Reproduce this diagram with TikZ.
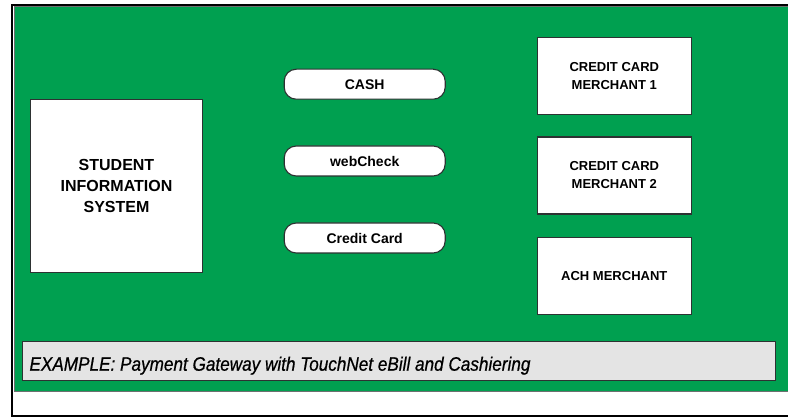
\documentclass[tikz,border=0pt]{standalone}
\usepackage{fontspec}
\setmainfont{Liberation Sans}
\definecolor{panelgreen}{RGB}{0,160,80}
\definecolor{edgegray}{RGB}{45,50,50}
\definecolor{captiongray}{RGB}{228,228,228}
\begin{document}
\begin{tikzpicture}[x=1pt,y=-1pt,
  box/.style={draw=edgegray, line width=1.1pt, fill=white, align=center,
    inner sep=0pt, font=\bfseries\fontsize{13}{18}\selectfont},
  merchant/.style={box, minimum width=154pt, minimum height=77pt},
  pill/.style={box, rounded corners=12pt, minimum width=161pt, minimum height=30pt,
    font=\bfseries\fontsize{14}{16}\selectfont},
  caption/.style={draw=edgegray, line width=1.1pt, fill=captiongray,
    minimum width=753pt, minimum height=39pt, inner sep=0pt}]
\useasboundingbox (0,0) rectangle (788,417);
\clip (0,0) rectangle (788,417);
\fill[white] (0,0) rectangle (788,417);
% outer frame and green panel
\draw[black, line width=2pt] (12,415.5) rectangle (800,5.3);
\filldraw[fill=panelgreen, draw=edgegray!70, line width=0.9pt] (14.6,6.9) rectangle (800,391.5);
% student information system
\node[box, minimum width=172pt, minimum height=173pt,
  font=\bfseries\fontsize{16}{21}\selectfont] (sis) at (116.5,185.6)
  {STUDENT\\INFORMATION\\SYSTEM};
% payment methods
\node[pill] (cash) at (364.7,84.2) {CASH};
\node[pill] (web) at (364.7,161) {webCheck};
\node[pill] (card) at (364.7,238) {Credit Card};
% merchants
\node[merchant] (m1) at (614.3,76.2) {CREDIT CARD\\MERCHANT 1};
\node[merchant] (m2) at (614.3,175.5) {CREDIT CARD\\MERCHANT 2};
\node[merchant] (ach) at (614.3,276.2) {ACH MERCHANT};
% caption bar
\node[caption] (cap) at (399.3,361.2) {};
\node[anchor=base west, inner sep=0pt] (captext) at (29.3,370.7)
  {\resizebox{501pt}{\height}{\itshape\fontsize{19.5}{20}\selectfont\addfontfeature{FakeBold=0.7}EXAMPLE: Payment Gateway with TouchNet eBill and Cashiering}};
\end{tikzpicture}
\end{document}
